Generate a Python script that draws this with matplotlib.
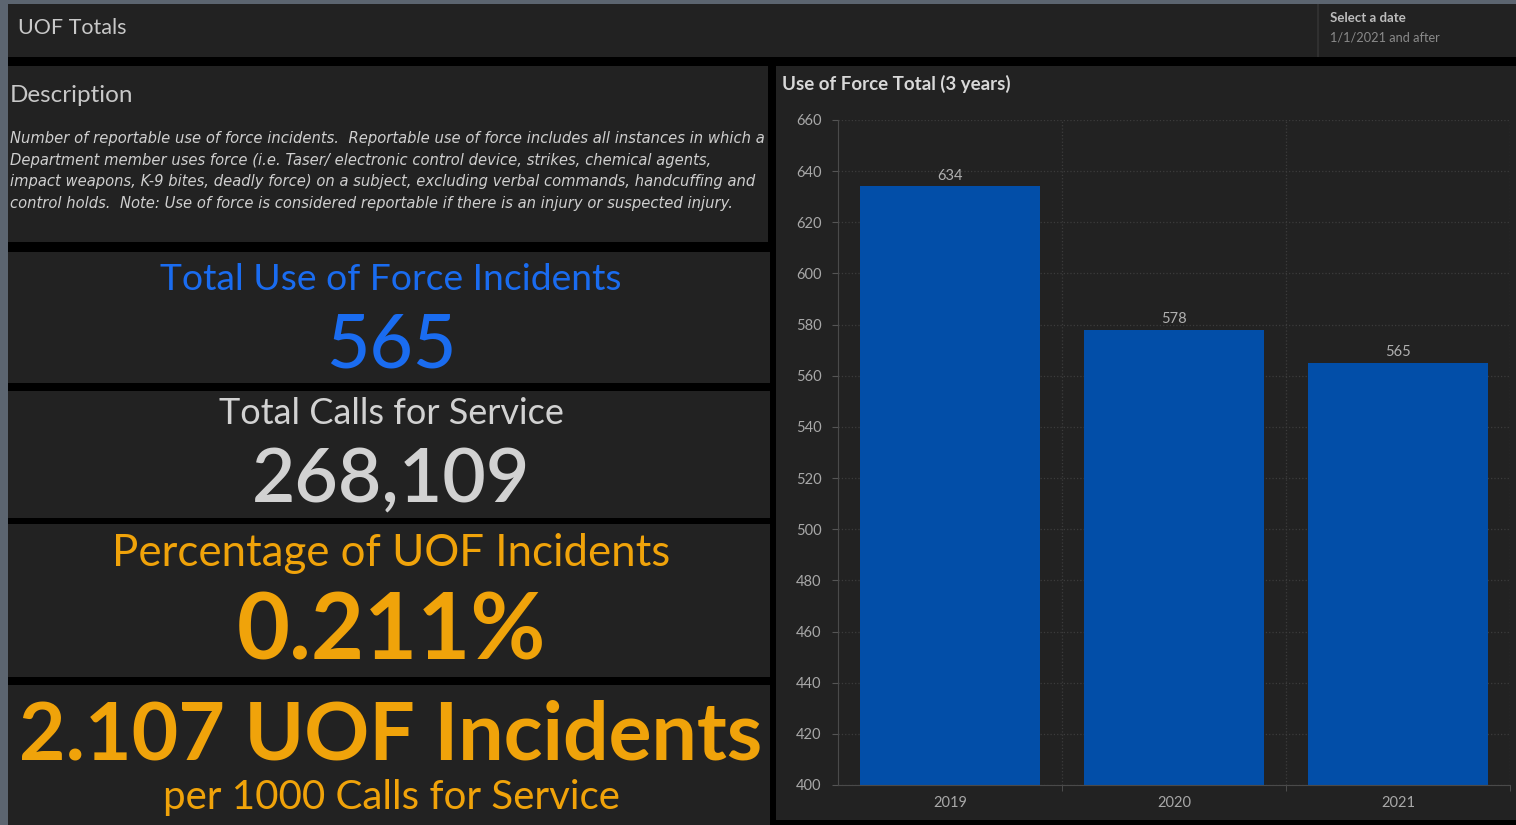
import matplotlib.pyplot as plt
from matplotlib.patches import Rectangle

W, H = 1516, 825

years = ['2019', '2020', '2021']
uof_totals = [634, 578, 565]
y_ticks = list(range(400, 661, 20))

total_uof = '565'
total_calls = '268,109'
pct_uof = '0.211%'
per_1000 = '2.107 UOF Incidents'

description = ("Number of reportable use of force incidents.  Reportable use of force includes all instances in which a\n"
               "Department member uses force (i.e. Taser/ electronic control device, strikes, chemical agents,\n"
               "impact weapons, K-9 bites, deadly force) on a subject, excluding verbal commands, handcuffing and\n"
               "control holds.  Note: Use of force is considered reportable if there is an injury or suspected injury.")

PANEL = '#222222'
BLUE = '#1a6cf0'
ORANGE = '#f0a30a'
LIGHT = '#d2d2d2'
BAR = '#024ea8'
FONT = 'Lato'


def px(x, y):
    return x / W, 1 - y / H


def panel(fig, x0, y0, x1, y1, color=PANEL):
    fx, fy = px(x0, y1)
    fig.add_artist(Rectangle((fx, fy), (x1 - x0) / W, (y1 - y0) / H,
                             transform=fig.transFigure, color=color, lw=0, zorder=0))


def label(fig, x, y, s, **kw):
    fx, fy = px(x, y)
    kw.setdefault('family', FONT)
    return fig.text(fx, fy, s, **kw)


fig = plt.figure(figsize=(W / 100, H / 100), dpi=100)
fig.patch.set_facecolor('#5c6570')

# black backing for the dashboard
panel(fig, 8, 4, W, H, '#000000')

# header
panel(fig, 8, 4, W, 57)
panel(fig, 1317, 4, 1319, 57, '#303030')
label(fig, 18, 28, 'UOF Totals', color='#c8c8c8', fontsize=15.5, va='center')
label(fig, 1330, 18, 'Select a date', color='#bdbdbd', fontsize=9.5, fontweight='bold', va='center')
label(fig, 1330, 38, '1/1/2021 and after', color='#8a8a8a', fontsize=9.2, va='center')

# description
panel(fig, 8, 66, 768, 242)
label(fig, 10, 95, 'Description', color='#c8c8c8', fontsize=17.5, va='center')
label(fig, 10, 171, description, color='#cfcfcf', fontsize=10.6, style='italic',
      va='center', linespacing=1.55, family='Liberation Sans Narrow')

# stat panels
panel(fig, 8, 252, 770, 383)
label(fig, 391, 279, 'Total Use of Force Incidents', color=BLUE, fontsize=26.8, ha='center', va='center')
label(fig, 391, 346, total_uof, color=BLUE, fontsize=54, ha='center', va='center', fontweight='medium')

panel(fig, 8, 391, 770, 518)
label(fig, 391, 414, 'Total Calls for Service', color=LIGHT, fontsize=26, ha='center', va='center')
label(fig, 391, 481, total_calls, color=LIGHT, fontsize=54, ha='center', va='center', fontweight='semibold')

panel(fig, 8, 524, 770, 677)
label(fig, 391, 553, 'Percentage of UOF Incidents', color=ORANGE, fontsize=31.5, ha='center', va='center')
label(fig, 391, 634, pct_uof, color=ORANGE, fontsize=66, ha='center', va='center', fontweight='bold')

panel(fig, 8, 685, 770, 825)
label(fig, 391, 736, per_1000, color=ORANGE, fontsize=58, ha='center', va='center', fontweight='bold')
label(fig, 391, 798, 'per 1000 Calls for Service', color=ORANGE, fontsize=29, ha='center', va='center')

# chart panel
panel(fig, 776, 66, W, 820)
label(fig, 782, 84, 'Use of Force Total (3 years)', color='#d8d8d8', fontsize=13.5,
      fontweight='bold', va='center')

x0, y0 = px(838, 785)
x1, y1 = px(1510, 120)
ax = fig.add_axes([x0, y0, x1 - x0, y1 - y0])
ax.set_facecolor(PANEL)
ax.patch.set_alpha(0)

pos = range(len(years))
bars = ax.bar(pos, uof_totals, width=0.8, color=BAR, zorder=2)
for b, v in zip(bars, uof_totals):
    ax.text(b.get_x() + b.get_width() / 2, v + 1.5, str(v), ha='center', va='bottom',
            color='#b0b0b0', fontsize=10.5, family=FONT)

ax.set_xlim(-0.5, len(years) - 0.5)
ax.set_ylim(400, 660)
ax.set_yticks(y_ticks)
ax.set_xticks(list(pos))
ax.set_xticklabels(years)
ax.set_xticks([i + 0.5 for i in pos], minor=True)
ax.tick_params(axis='both', colors='#a8a8a8', labelsize=10.5, length=4, width=0.8)
ax.tick_params(axis='x', which='major', length=0, pad=8)
ax.tick_params(axis='x', which='minor', length=4, color='#555555')
for t in ax.get_xticklabels() + ax.get_yticklabels():
    t.set_family(FONT)
ax.tick_params(axis='y', color='#555555', pad=8)
ax.grid(axis='y', color='#3c3c3c', linestyle=':', linewidth=0.9, zorder=0)
ax.grid(axis='x', which='minor', color='#3c3c3c', linestyle=':', linewidth=0.9, zorder=0)
for side in ['top', 'right']:
    ax.spines[side].set_visible(False)
for side in ['left', 'bottom']:
    ax.spines[side].set_color('#4a4a4a')

fig.savefig('out.png', dpi=100, facecolor=fig.get_facecolor())
